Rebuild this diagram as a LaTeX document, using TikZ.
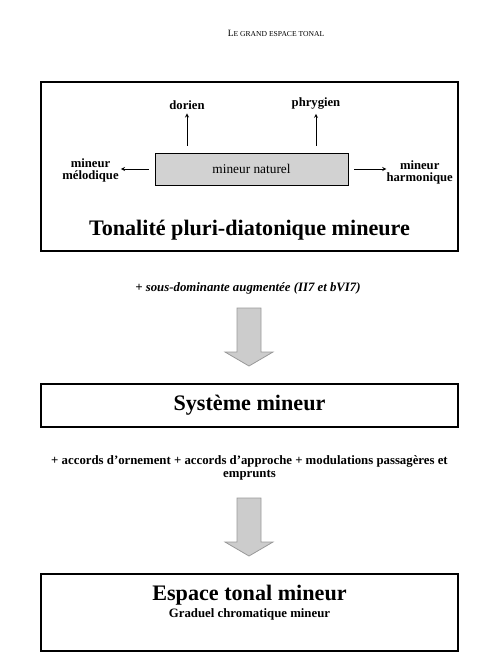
\documentclass[tikz,border=0pt]{standalone}
\usepackage{fontspec}
\setmainfont{Liberation Serif}
\usetikzlibrary{positioning}

\tikzset{
  cadre/.style={draw=black, line width=0.8pt},
  naturel/.style={draw=black, line width=0.6pt, fill=gray!35, minimum width=144.75pt, minimum height=24pt, font=\fontsize{10}{12}\selectfont},
  mode/.style={font=\bfseries\fontsize{9.5}{9}\selectfont, align=center},
  grandtitre/.style={font=\bfseries\fontsize{16.6}{20}\selectfont},
  ajout/.style={font=\bfseries\fontsize{9.6}{9.8}\selectfont, align=center},
  fleche/.style={fill=gray!40, draw=gray!80, line width=0.6pt}
}

\begin{document}
\begin{tikzpicture}[x=0.75pt, y=-0.75pt, >=stealth, every node/.style={inner sep=0pt}]
	\useasboundingbox (0,0) rectangle (496,672);
	% 1. en-tete
	\node[anchor=base] (entete) at (276,36.7) {{\fontsize{7.2}{8}\selectfont L}{\fontsize{5.7}{8}\selectfont E GRAND ESPACE TONAL}};
	
	% 2. premier cadre
	\draw[cadre] (41,82) rectangle (458,251);
	\node[naturel] (nat) at (251.5,169) {mineur naturel};
	\node[mode, anchor=base] (dor) at (187,109) {dorien};
	\node[mode, anchor=base] (phr) at (316,106.7) {phrygien};
	\node[mode] (melo) at (90.5,170.5) {mineur\\mélodique};
	\node[mode] (harm) at (419.7,172) {mineur\\harmonique};
	\draw[thin, ->, shorten <=5pt, shorten >=3pt] (nat.north -| dor.south) -- (dor.south);
	\draw[thin, ->, shorten <=5pt, shorten >=3pt] (nat.north -| phr.south) -- (phr.south);
	\draw[thin, ->, shorten <=4.5pt, shorten >=1.5pt] (nat.west) -- (nat.west -| melo.east);
	\draw[thin, ->, shorten <=4.5pt, shorten >=0pt] (nat.east) -- (nat.east -| harm.west);
	\node[grandtitre, anchor=base] (pluri) at (249.5,235) {Tonalité pluri-diatonique mineure};
	
	% 3. premier ajout
	\node[ajout, anchor=base] (sousdom) at (248,291) {\itshape + sous-dominante augmentée (II7 et bVI7)};
	
	% 4. grosses fleches
	\foreach \y in {308,498}
		\draw[fleche] (237,\y) -- (261,\y) -- (261,\y+44) -- (273,\y+44) -- (249,\y+58) -- (225,\y+44) -- (237,\y+44) -- cycle;
	
	% 5. second cadre
	\draw[cadre] (41,384) rectangle (458,427);
	\node[grandtitre, anchor=base] (systeme) at (249.5,410) {Système mineur};
	
	% 6. second ajout
	\node[ajout] (accords) at (249.5,467.5) {+ accords d’ornement + accords d’approche + modulations passagères et\\emprunts};
	
	% 7. dernier cadre
	\draw[cadre] (41,574) rectangle (458,651);
	\node[grandtitre, anchor=base] (espace) at (249.5,600.5) {Espace tonal mineur};
	\node[ajout, anchor=base] (graduel) at (249.5,617) {Graduel chromatique mineur};
\end{tikzpicture}
\end{document}
